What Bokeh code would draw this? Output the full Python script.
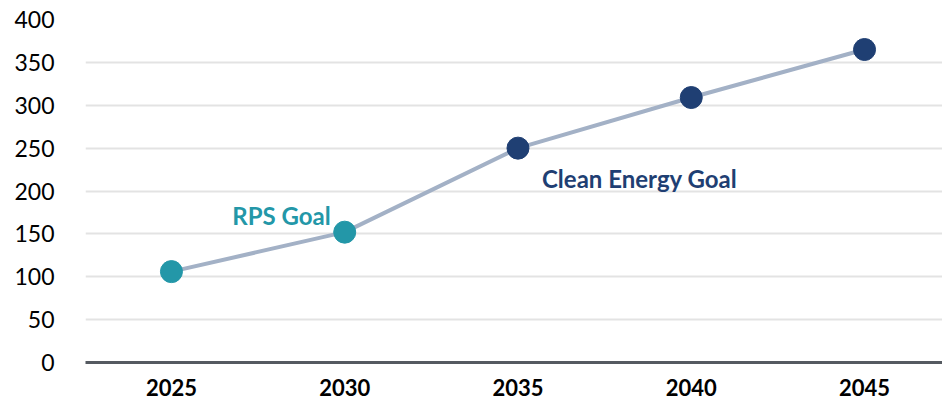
from bokeh.plotting import figure
from bokeh.models import Range1d, FixedTicker, ColumnDataSource
from bokeh.core.properties import value
from bokeh.embed import file_html
from bokeh.resources import INLINE

years = [2025, 2030, 2035, 2040, 2045]
values = [106, 152, 250, 309, 365]
colors = ["#2397A8", "#2397A8", "#1F3F73", "#1F3F73", "#1F3F73"]
y_ticks = [0, 50, 100, 150, 200, 250, 300, 350, 400]
ann_text = ["RPS Goal", "Clean Energy Goal"]
ann_x = [2030, 2035]
ann_y = [171, 214]
ann_colors = ["#2397A8", "#1F3F73"]

FONT = "Lato"

p = figure(width=942, height=409, output_backend="svg", toolbar_location=None,
           x_range=Range1d(2022.52, 2047.25), y_range=Range1d(0, 400),
           min_border_left=85, min_border_right=0, min_border_top=19, min_border_bottom=47)
p.outline_line_color = None
p.background_fill_color = "white"
p.border_fill_color = "white"

p.xgrid.visible = False
p.ygrid.grid_line_color = "#E3E3E3"
p.ygrid.grid_line_width = 2
p.ygrid.ticker = FixedTicker(ticks=y_ticks[1:])

p.yaxis.ticker = FixedTicker(ticks=y_ticks)
p.yaxis.axis_line_color = None
p.yaxis.major_tick_line_color = None
p.yaxis.minor_tick_line_color = None
p.yaxis.major_label_text_font = FONT
p.yaxis.major_label_text_font_size = "23px"
p.yaxis.major_label_text_color = "#000000"
p.yaxis.major_label_standoff = 25

p.xaxis.ticker = FixedTicker(ticks=years)
p.xaxis.axis_line_color = "#555A61"
p.xaxis.axis_line_width = 3
p.xaxis.major_tick_line_color = None
p.xaxis.minor_tick_line_color = None
p.xaxis.major_label_text_font = FONT
p.xaxis.major_label_text_font_size = "22px"
p.xaxis.major_label_text_font_style = "bold"
p.xaxis.major_label_text_color = "#000000"
p.xaxis.major_label_standoff = 10

src = ColumnDataSource(dict(x=years, y=values, c=colors))
p.line("x", "y", source=src, line_color="#A3B1C6", line_width=4)
p.scatter("x", "y", source=src, size=22, fill_color="c", line_color="c")

p.text(x=[ann_x[0]], y=[ann_y[0]], text=[ann_text[0]], text_color=ann_colors[0],
       text_font=value(FONT), text_font_size="24px", text_font_style="bold",
       text_align="right", text_baseline="middle", x_offset=-14)
p.text(x=[ann_x[1]], y=[ann_y[1]], text=[ann_text[1]], text_color=ann_colors[1],
       text_font=value(FONT), text_font_size="24px", text_font_style="bold",
       text_align="left", text_baseline="middle", x_offset=24)

open("out.html", "w").write(file_html(p, INLINE))
